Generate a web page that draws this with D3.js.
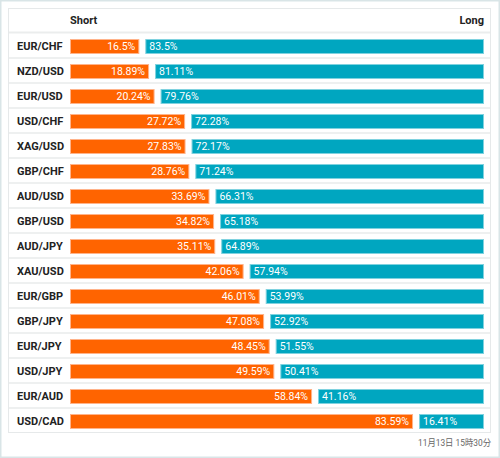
<!DOCTYPE html>
<html><head><meta charset="utf-8">
<script src="https://cdn.jsdelivr.net/npm/d3@7"></script>
<style>
html,body{margin:0;padding:0;background:#fff;}
svg{display:block;font-family:Roboto,"Noto Sans CJK JP",sans-serif;}
</style></head>
<body>
<svg id="c" width="500" height="458"></svg>
<script>
const pairs = ["EUR/CHF","NZD/USD","EUR/USD","USD/CHF","XAG/USD","GBP/CHF","AUD/USD","GBP/USD","AUD/JPY","XAU/USD","EUR/GBP","GBP/JPY","EUR/JPY","USD/JPY","EUR/AUD","USD/CAD"];
const shortVals = [16.5,18.89,20.24,27.72,27.83,28.76,33.69,34.82,35.11,42.06,46.01,47.08,48.45,49.59,58.84,83.59];
const longVals = [83.5,81.11,79.76,72.28,72.17,71.24,66.31,65.18,64.89,57.94,53.99,52.92,51.55,50.41,41.16,16.41];
const headers = ["Short","Long"];
const timestamp = "11月13日 15時30分";

const svg = d3.select("#c");
const W = 500, H = 458;
// outer frame
svg.append("rect").attr("x",0.75).attr("y",0.75).attr("width",W-1.5).attr("height",H-1.5)
  .attr("fill","#fff").attr("stroke","#d9e5e7").attr("stroke-width",1.5);
// panel
const px0 = 8, px1 = 491, py0 = 8, headH = 25, rowH = 25;
const py1 = py0 + headH + rowH*pairs.length;
svg.append("rect").attr("x",px0+0.5).attr("y",py0+0.5).attr("width",px1-px0-1).attr("height",py1-py0-1)
  .attr("fill","#fff").attr("stroke","#e6e9ea").attr("stroke-width",1);

const barL = 70, barR = 484, gap = 6;
const x = d3.scaleLinear().domain([0,100]).range([72, 480]);
const y = d3.scaleBand().domain(pairs).range([py0+headH, py1]).paddingInner(0).paddingOuter(0);

// header
svg.append("text").attr("x",barL).attr("y",py0+16).attr("font-size",11).attr("font-weight","bold")
  .attr("fill","#222").text(headers[0]);
svg.append("text").attr("x",barR).attr("y",py0+16).attr("font-size",11).attr("font-weight","bold")
  .attr("fill","#222").attr("text-anchor","end").text(headers[1]);
svg.append("line").attr("x1",px0+1).attr("x2",px1-1).attr("y1",py0+headH-0.5).attr("y2",py0+headH-0.5)
  .attr("stroke","#ebeded").attr("stroke-width",2);

const rows = svg.append("g").selectAll("g").data(pairs).join("g")
  .attr("transform",d=>`translate(0,${y(d)})`);

rows.filter((d,i)=>i>0).append("line").attr("x1",px0+1).attr("x2",px1-1).attr("y1",0).attr("y2",0)
  .attr("stroke","#eef0f0").attr("stroke-width",2);

rows.append("text").attr("x",17).attr("y",rowH/2+4).attr("font-size",11).attr("font-weight","bold")
  .attr("fill","#222").text(d=>d);

const bh = 14, by = 6;
rows.append("rect").attr("x",barL+0.5).attr("y",by+0.5)
  .attr("width",(d,i)=>x(shortVals[i])-barL-1).attr("height",bh)
  .attr("fill","#ff6400").attr("stroke","#ffb38a").attr("stroke-width",1);
rows.append("rect").attr("x",(d,i)=>x(shortVals[i])+gap+0.5).attr("y",by+0.5)
  .attr("width",(d,i)=>barR-(x(shortVals[i])+gap)-1).attr("height",bh)
  .attr("fill","#00a6c0").attr("stroke","#7fd2df").attr("stroke-width",1);

rows.append("text").attr("x",(d,i)=>x(shortVals[i])-4).attr("y",by+11).attr("font-size",10.5)
  .attr("fill","#fff").attr("text-anchor","end").text((d,i)=>shortVals[i]+"%");
rows.append("text").attr("x",(d,i)=>x(shortVals[i])+gap+4).attr("y",by+11).attr("font-size",10.5)
  .attr("fill","#fff").text((d,i)=>longVals[i]+"%");

svg.append("text").attr("x",491).attr("y",445.5).attr("font-size",9).attr("fill","#666")
  .attr("text-anchor","end").attr("textLength",73).attr("lengthAdjust","spacingAndGlyphs").text(timestamp);
</script>
</body></html>
